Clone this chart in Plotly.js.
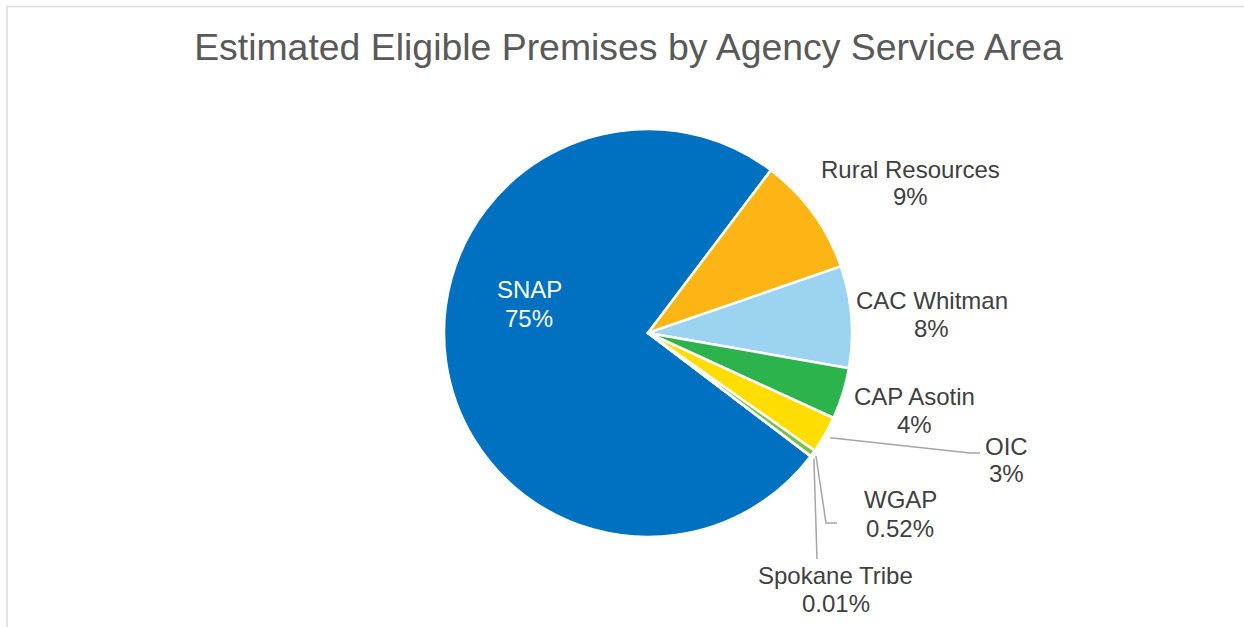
<!DOCTYPE html>
<html>
<head>
<meta charset="utf-8">
<script src="https://cdn.plot.ly/plotly-3.0.1.min.js"></script>
<style>
html,body{margin:0;padding:0;background:#fff;}
#chart{width:1244px;height:627px;}
</style>
</head>
<body>
<div id="chart"></div>
<script>
// ---- data ----
const labels = ["SNAP", "Rural Resources", "CAC Whitman", "CAP Asotin", "OIC", "WGAP", "Spokane Tribe"];
const values = [74.97, 9.42, 8.05, 4.08, 2.95, 0.52, 0.01];
const pctText = ["75%", "9%", "8%", "4%", "3%", "0.52%", "0.01%"];
const colors = ["#0070c0", "#fdb515", "#9bd3f1", "#2db34b", "#ffdd00", "#7ac143", "#5b9bd5"];

// ---- layout helpers (pixel -> paper) ----
const W = 1244, H = 627;
const X = px => px / W;
const Y = py => 1 - py / H;
const cx = 648, cy = 333, R = 204;
const rotation = 127.15;

// label positions: [centre x, name line y, pct line y]
const labelPos = [
  [529, 289, 318],
  [910, 169, 196],
  [932, 300, 328],
  [914, 396, 424],
  [1006, 446, 474],
  [900, 499, 528],
  [836, 575, 603]
];

// mid angles of slices (clockwise from 12 o'clock)
const total = values.reduce((a, b) => a + b, 0);
const midAngle = [];
let acc = rotation;
values.forEach(v => {
  const span = v / total * 360;
  midAngle.push(acc + span / 2);
  acc += span;
});
function edgePoint(i, f) {
  const a = midAngle[i] * Math.PI / 180;
  return [cx + R * f * Math.sin(a), cy - R * f * Math.cos(a)];
}

const annotations = [];
labels.forEach((lab, i) => {
  const p = labelPos[i];
  const col = i === 0 ? "#ffffff" : "#404040";
  annotations.push({text: lab, x: X(p[0]), y: Y(p[1]), xref: "paper", yref: "paper",
    xanchor: "center", yanchor: "middle", showarrow: false,
    font: {family: "Liberation Sans, Arial, sans-serif", size: 24, color: col}});
  annotations.push({text: pctText[i], x: X(p[0]), y: Y(p[2]), xref: "paper", yref: "paper",
    xanchor: "center", yanchor: "middle", showarrow: false,
    font: {family: "Liberation Sans, Arial, sans-serif", size: 24, color: col}});
});

// leader lines
const leaders = [
  {i: 4, f: 1.03, pts: [[970, 453], [980, 453]]},
  {i: 5, f: 1.02, pts: [[826, 523], [837, 523]]},
  {i: 6, f: 1.02, pts: [[817, 559]]}
];
const shapes = [{
  type: "rect", xref: "paper", yref: "paper",
  x0: X(7), x1: X(1260), y0: Y(640), y1: Y(6.5),
  line: {color: "#d9d9d9", width: 1.5}, fillcolor: "rgba(0,0,0,0)"
}];
leaders.forEach(l => {
  const s = edgePoint(l.i, l.f);
  let d = "M" + X(s[0]) + "," + Y(s[1]);
  l.pts.forEach(p => { d += " L" + X(p[0]) + "," + Y(p[1]); });
  shapes.push({type: "path", xref: "paper", yref: "paper", path: d,
    line: {color: "#a6a6a6", width: 1.5}});
});

const trace = {
  type: "pie",
  labels: labels,
  values: values,
  sort: false,
  direction: "clockwise",
  rotation: rotation,
  marker: {colors: colors, line: {color: "#ffffff", width: 2.5}},
  textinfo: "none",
  hoverinfo: "none",
  showlegend: false,
  domain: {x: [X(cx - R), X(cx + R)], y: [Y(cy + R), Y(cy - R)]}
};

const layout = {
  width: W, height: H,
  margin: {l: 0, r: 0, t: 0, b: 0},
  paper_bgcolor: "#ffffff",
  title: {
    text: "Estimated Eligible Premises by Agency Service Area",
    x: X(628.5), xref: "container", xanchor: "center",
    y: Y(47), yref: "container", yanchor: "middle",
    font: {family: "Liberation Sans, Arial, sans-serif", size: 37.4, color: "#595959"}
  },
  annotations: annotations,
  shapes: shapes
};

Plotly.newPlot("chart", [trace], layout, {displayModeBar: false, staticPlot: true});
</script>
</body>
</html>
